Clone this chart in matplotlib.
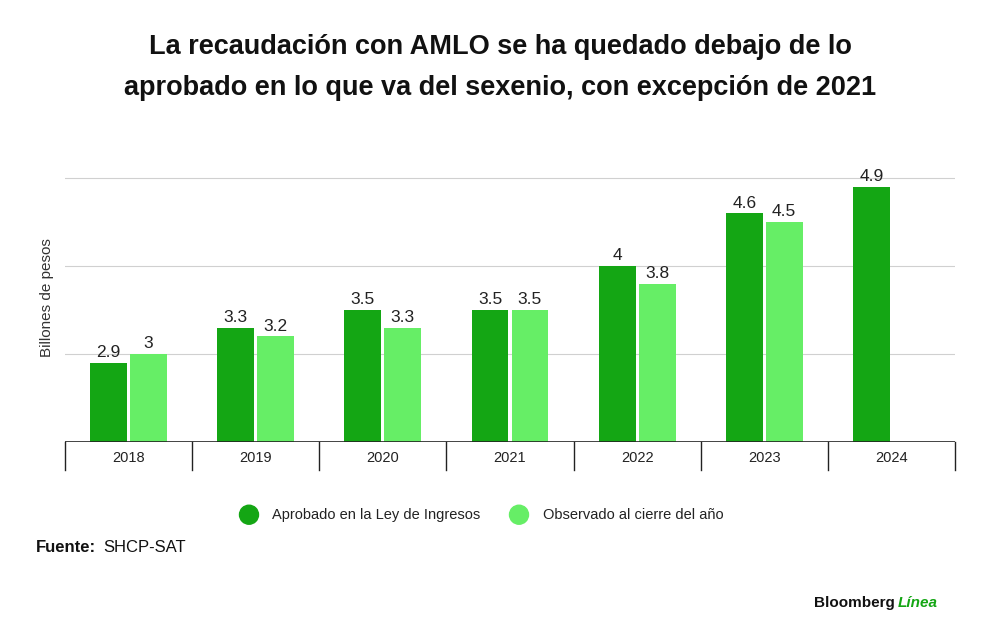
import matplotlib
matplotlib.use("Agg")
import matplotlib.pyplot as plt
from matplotlib.patches import Ellipse
import numpy as np

years = ["2018", "2019", "2020", "2021", "2022", "2023", "2024"]
aprobado = [2.9, 3.3, 3.5, 3.5, 4.0, 4.6, 4.9]
observado = [3.0, 3.2, 3.3, 3.5, 3.8, 4.5, None]
lab_ap = ["2.9", "3.3", "3.5", "3.5", "4", "4.6", "4.9"]
lab_ob = ["3", "3.2", "3.3", "3.5", "3.8", "4.5", ""]

dark = "#14a614"
light = "#66ee66"
plt.rcParams['font.family'] = ['Liberation Sans', 'DejaVu Sans']

fig = plt.figure(figsize=(10, 6.41), dpi=100)
ax = fig.add_axes([0.065, 0.3105, 0.89, 0.45])
x = np.arange(len(years))
w = 0.29
gap = 0.012
ax.set_xlim(-0.5, 6.5)
ax.set_ylim(2, 2 + 0.45 * 641 / 88)
for i in x:
    ax.bar(i - w/2 - gap, aprobado[i] - 2, w, bottom=2, color=dark, zorder=3)
    ax.text(i - w/2 - gap, aprobado[i] + 0.03, lab_ap[i], ha='center', va='bottom', fontsize=12.5, color='#222')
    if observado[i] is not None:
        ax.bar(i + w/2 + gap, observado[i] - 2, w, bottom=2, color=light, zorder=3)
        ax.text(i + w/2 + gap, observado[i] + 0.03, lab_ob[i], ha='center', va='bottom', fontsize=12.5, color='#222')
for g in [3, 4, 5]:
    ax.axhline(g, color='#d0d0d0', lw=0.8, zorder=1)
ax.axhline(2, color='#222', lw=1.2, zorder=4)
for s in ax.spines.values():
    s.set_visible(False)
ax.set_yticks([])
ax.set_xticks([])
for b in np.arange(-0.5, 7, 1):
    ax.plot([b, b], [2, 1.68], color='#222', lw=1, clip_on=False)
for i in x:
    ax.text(i, 1.82, years[i], ha='center', va='center', fontsize=10.5, color='#222')
ax.text(-0.012, 0.5, "Billones de pesos", transform=ax.transAxes, rotation=90,
        ha='right', va='center', fontsize=11, color='#333')

fig.text(0.5, 0.895, "La recaudación con AMLO se ha quedado debajo de lo\naprobado en lo que va del sexenio, con excepción de 2021",
         ha='center', va='center', fontsize=19.5, fontweight='bold', linespacing=1.75, color='#111')
r = 0.0095
fig.patches.append(Ellipse((0.249, 0.197), r * 2, r * 2 * 1000 / 641, transform=fig.transFigure, color=dark))
fig.text(0.272, 0.197, "Aprobado en la Ley de Ingresos", va='center', fontsize=10.5, color='#222')
fig.patches.append(Ellipse((0.519, 0.197), r * 2, r * 2 * 1000 / 641, transform=fig.transFigure, color=light))
fig.text(0.543, 0.197, "Observado al cierre del año", va='center', fontsize=10.5, color='#222')
fig.text(0.036, 0.146, "Fuente:", va='center', fontsize=12, fontweight='bold', color='#111')
fig.text(0.103, 0.146, "SHCP-SAT", va='center', fontsize=12, color='#111')
fig.text(0.895, 0.06, "Bloomberg", ha='right', va='center', fontsize=11, fontweight='bold', color='#111')
fig.text(0.898, 0.06, "Línea", ha='left', va='center', fontsize=11, fontweight='bold', style='italic', color=dark)
fig.savefig("out.png", dpi=100, facecolor='white')
